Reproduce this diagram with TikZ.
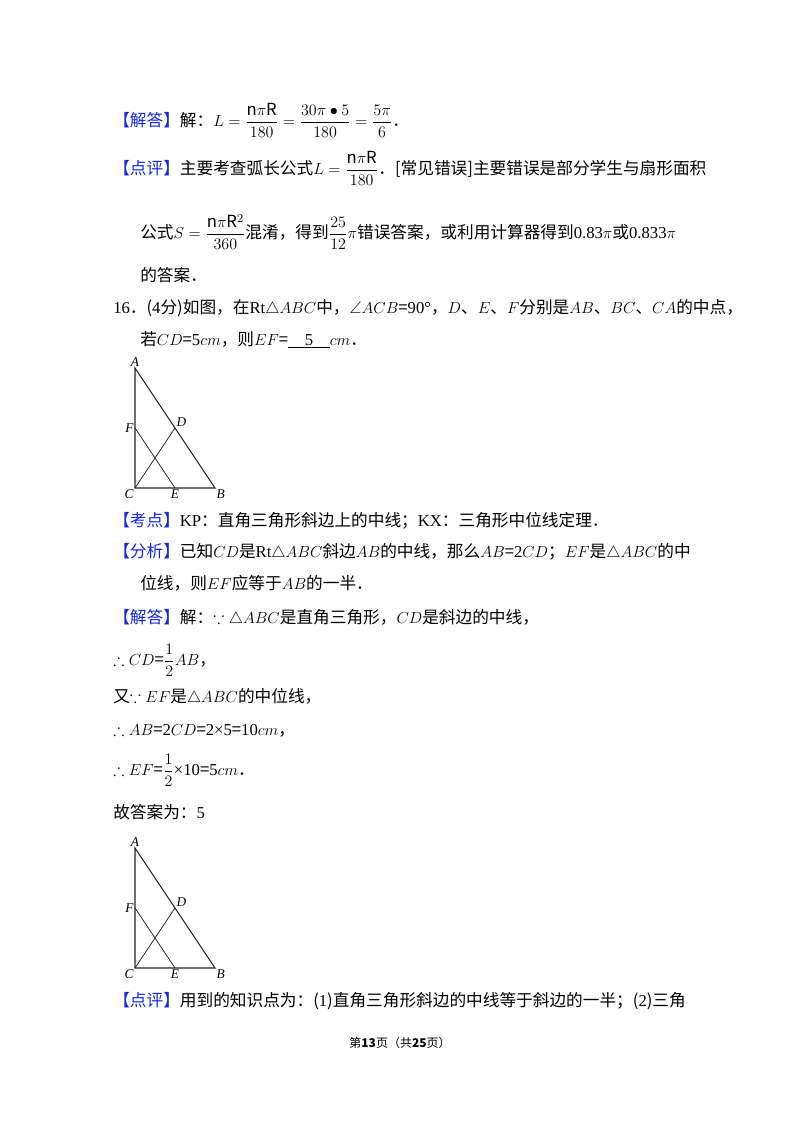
\documentclass[tikz,border=0pt]{standalone}
\usepackage{amsmath,amssymb}
\usepackage{fontspec}
\setmainfont{Noto Sans CJK SC}
\newfontfamily\lat{Liberation Serif}
\usetikzlibrary{positioning,calc}
\definecolor{tagblue}{RGB}{20,40,230}
\tikzset{
  line/.style={anchor=west,inner sep=0pt,font=\fontsize{12.5}{15}\selectfont},
  ptlabel/.style={font=\lat\itshape,inner sep=1pt},
  edge/.style={line width=0.8pt,gray!30!black}
}
\newcommand{\tagb}[1]{\textcolor{tagblue}{【#1】}}
\newcommand{\tri}[2]{%
 \coordinate (A#2) at (135,#1);
 \coordinate (C#2) at (135,#1+120);
 \coordinate (B#2) at (215,#1+120);
 \coordinate (F#2) at ($(A#2)!0.5!(C#2)$);
 \coordinate (E#2) at ($(C#2)!0.5!(B#2)$);
 \coordinate (D#2) at ($(A#2)!0.5!(B#2)$);
 \draw[edge] (A#2) -- (C#2) -- (B#2) -- cycle;
 \draw[edge,line width=0.6pt] (C#2) -- (D#2) (F#2) -- (E#2);
 \node[ptlabel,above] at (A#2) {A};
 \node[ptlabel,below left] at (C#2) {C};
 \node[ptlabel,below right] at (B#2) {B};
 \node[ptlabel,left] at (F#2) {F};
 \node[ptlabel,above right] at (D#2) {D};
 \node[ptlabel,below] at (E#2) {E};
}
\begin{document}
\begin{tikzpicture}[x=0.75pt,y=-0.75pt]
 \useasboundingbox[fill=white] (0,0) rectangle (800,1132);

 \node[line] (l1) at (113,120) {\tagb{解答}解：$L=\dfrac{\mathrm{n}\pi\mathrm{R}}{180}=\dfrac{30\pi\bullet5}{180}=\dfrac{5\pi}{6}$．};
 \node[line] (l2) at (113,168) {\tagb{点评}主要考查弧长公式$L=\dfrac{\mathrm{n}\pi\mathrm{R}}{180}$．[常见错误]主要错误是部分学生与扇形面积};
 \node[line] (l3) at (140,232) {公式$S=\dfrac{\mathrm{n}\pi\mathrm{R}^2}{360}$混淆，得到$\dfrac{25}{12}\pi$错误答案，或利用计算器得到{\lat 0.83}$\pi$或{\lat 0.833}$\pi$};
 \node[line] (l4) at (140,275) {的答案．};
 \node[line] (l5) at (113,308) {{\lat 16}．({\lat 4}分)如图，在{\lat Rt}$\triangle ABC$中，$\angle ACB$={\lat 90°}，$D$、$E$、$F$分别是$AB$、$BC$、$CA$的中点，};
 \node[line] (l6) at (140,340) {若$CD$={\lat 5}$cm$，则$EF$=\underline{\hspace{1em}{\lat 5}\hspace{1em}}$cm$．};

 \tri{368}{1}

 \node[line] (l7) at (113,521) {\tagb{考点}{\lat KP}：直角三角形斜边上的中线；{\lat KX}：三角形中位线定理．};
 \node[line] (l8) at (113,552) {\tagb{分析}已知$CD$是{\lat Rt}$\triangle ABC$斜边$AB$的中线，那么$AB$={\lat 2}$CD$；$EF$是$\triangle ABC$的中};
 \node[line] (l9) at (140,583) {位线，则$EF$应等于$AB$的一半．};
 \node[line] (l10) at (113,618) {\tagb{解答}解：$\because\triangle ABC$是直角三角形，$CD$是斜边的中线，};
 \node[line] (l11) at (113,660) {$\therefore CD$=$\dfrac{1}{2}AB$，};
 \node[line] (l12) at (113,697) {又$\because EF$是$\triangle ABC$的中位线，};
 \node[line] (l13) at (113,731) {$\therefore AB$={\lat 2}$CD$={\lat 2×5}={\lat 10}$cm$，};
 \node[line] (l14) at (113,770) {$\therefore EF$=$\dfrac{1}{2}${\lat ×10}={\lat 5}$cm$．};
 \node[line] (l15) at (113,812) {故答案为：{\lat 5}};

 \tri{848}{2}

 \node[line] (l16) at (113,1001) {\tagb{点评}用到的知识点为：({\lat 1})直角三角形斜边的中线等于斜边的一半；({\lat 2})三角};
 \node[inner sep=0pt,font=\small] (foot) at (400,1043) {第\textbf{13}页（共\textbf{25}页）};
\end{tikzpicture}
\end{document}
